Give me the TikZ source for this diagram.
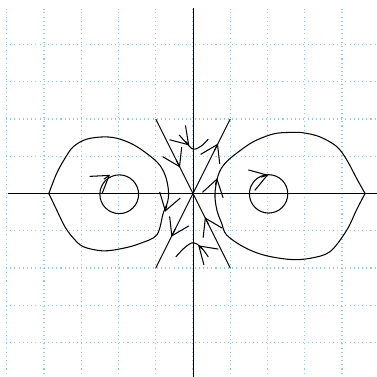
\documentclass[tikz,border=0pt]{standalone}
\usetikzlibrary{arrows.meta}
\definecolor{gridblue}{RGB}{140,205,240}
\begin{document}
\begin{tikzpicture}[x=1cm,y=1cm,
  curve/.style={line width=0.8pt, black, line join=round},
  tipmark/.style={line width=0.8pt, black, -{Straight Barb[angle=66:15pt]}},
  gridline/.style={gridblue, line width=0.8pt, dash pattern=on 0.8pt off 2.4pt},
  axis/.style={line width=0.75pt, black}]
\useasboundingbox (-5.181,-4.926) rectangle (4.913,5.195);
% grid
\draw[gridline] (-5.02,-4.95) grid (4.95,4.95);
% axes
\coordinate (xl) at (-4.97,0);
\coordinate (xr) at (5,0);
\coordinate (yb) at (0,-5);
\coordinate (yt) at (0,4.97);
\draw[axis] (xl) -- (xr);
\draw[axis] (yb) -- (yt);
% separatrices
\coordinate (O) at (0,0);
\coordinate (ul) at (-1,2);
\coordinate (ur) at (1,2);
\coordinate (ll) at (-1,-2);
\coordinate (lr) at (1,-2);
\draw[curve] (ul) -- (O) -- (lr);
\draw[curve] (ll) -- (O) -- (ur);
\draw[tipmark] (-0.45,0.90) -- (-0.35,0.70);
\draw[tipmark] (-0.48,-0.96) -- (-0.58,-1.16);
\draw[tipmark] (0.57,1.14) -- (0.67,1.34);
\draw[tipmark] (0.42,-0.84) -- (0.32,-0.64);
% top and bottom hyperbolas
\draw[curve] plot[smooth, tension=0.6] coordinates {(-0.37,1.57) (-0.17,1.35) (0.01,1.19) (0.23,1.28) (0.41,1.46)};
\draw[tipmark] (-0.20,1.40) -- (-0.10,1.29);
\draw[curve] plot[smooth, tension=0.6] coordinates {(-0.46,-1.70) (-0.22,-1.45) (0.01,-1.32) (0.22,-1.45) (0.41,-1.70)};
\draw[tipmark] (0.25,-1.49) -- (0.14,-1.39);
% left loop
\draw[curve] plot[smooth, tension=0.55] coordinates {(-3.87,0) (-3.66,0.54) (-3.44,0.94) (-3.21,1.26) (-2.85,1.46) (-2.36,1.52) (-1.96,1.46) (-1.51,1.26) (-0.97,0.85) (-0.75,0.50) (-0.66,0.09) (-0.68,-0.22) (-0.80,-0.53) (-0.97,-1.11) (-1.42,-1.34) (-1.87,-1.47) (-2.41,-1.54) (-2.94,-1.43) (-3.21,-1.20) (-3.44,-0.89) (-3.66,-0.44) (-3.87,0)};
\draw[tipmark] (-0.70,-0.32) -- (-0.75,-0.49);
% right loop
\draw[curve] plot[smooth, tension=0.55] coordinates {(4.62,0) (4.39,0.41) (4.13,0.90) (3.86,1.26) (3.41,1.52) (2.96,1.63) (2.60,1.64) (2.16,1.60) (1.62,1.39) (1.17,1.08) (0.86,0.81) (0.68,0.50) (0.59,0) (0.64,-0.44) (0.77,-0.80) (0.90,-1.11) (1.35,-1.43) (1.89,-1.65) (2.60,-1.77) (3.14,-1.74) (3.68,-1.56) (4.13,-0.98) (4.39,-0.44) (4.62,0)};
\draw[tipmark] (0.60,0.22) -- (0.65,0.41);
% inner circles
\coordinate (cl) at (-1.98,-0.02);
\coordinate (cr) at (2.03,-0.01);
\draw[curve] (cl) circle[radius=0.52];
\draw[curve] (cr) circle[radius=0.515];
\draw[tipmark] (-2.39,0.385) -- (-2.23,0.50);
\draw[tipmark] (1.83,0.44) -- (2.02,0.50);
\end{tikzpicture}
\end{document}
